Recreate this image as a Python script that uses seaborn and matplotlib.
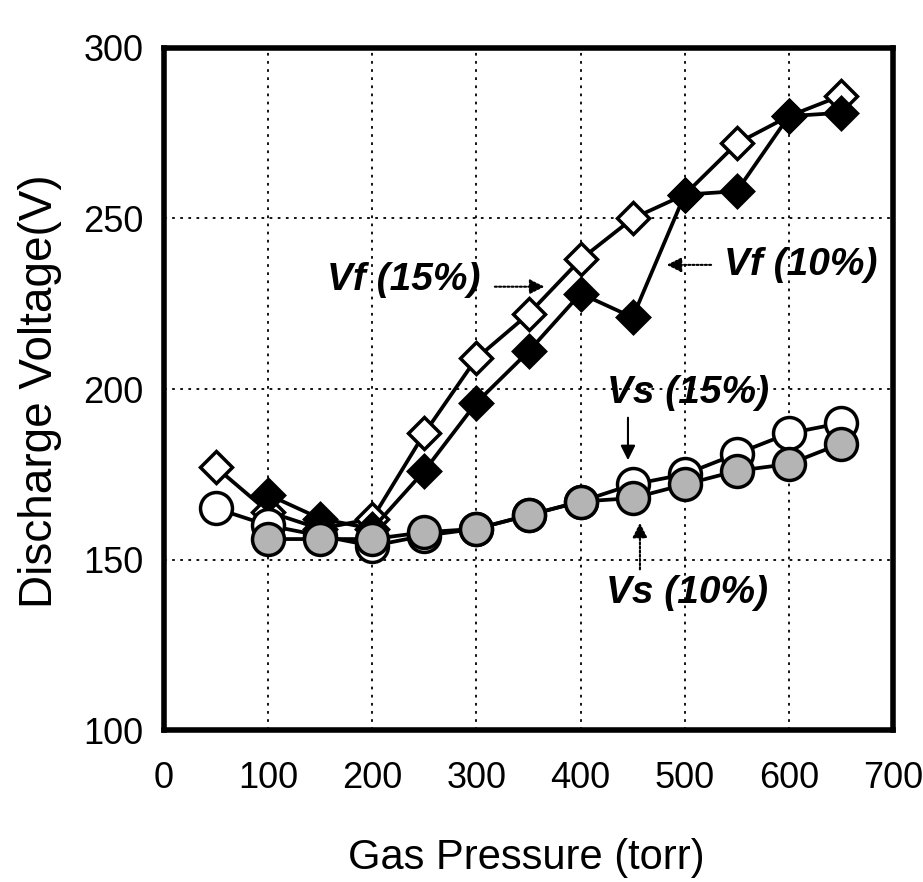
import pandas as pd
import matplotlib
matplotlib.use("Agg")
import matplotlib.pyplot as plt
import seaborn as sns

# dane
pressure = [50, 100, 150, 200, 250, 300, 350, 400, 450, 500, 550, 600, 650]
vf_15 = [177, 164, 159, 162, 187, 209, 222, 238, 250, 257, 272, 280, 286]
vf_10_p = [100, 150, 200, 250, 300, 350, 400, 450, 500, 550, 600, 650]
vf_10 = [169, 162, 159, 176, 196, 211, 228, 221, 257, 258, 280, 281]
vs_15 = [165, 160, 157, 154, 157, 159, 163, 167, 172, 175, 181, 187, 190]
vs_10_p = [100, 150, 200, 250, 300, 350, 400, 450, 500, 550, 600, 650]
vs_10 = [156, 156, 156, 158, 159, 163, 167, 168, 172, 176, 178, 184]

x_ticks = [0, 100, 200, 300, 400, 500, 600, 700]
y_ticks = [100, 150, 200, 250, 300]

sns.set_style("white")
plt.rcParams['font.family'] = ['Liberation Sans', 'DejaVu Sans']
for key in ['text.color', 'axes.labelcolor', 'xtick.color', 'ytick.color']:
    plt.rcParams[key] = 'black'
narrow = ['Liberation Sans Narrow', 'DejaVu Sans Condensed', 'Liberation Sans']

fig = plt.figure(figsize=(9.23, 8.82), dpi=100)
ax = fig.add_axes([0.1777, 0.1723, 0.7898, 0.7733])

series = [
    (pressure, vf_15, 'D', 16.5, 'white'),
    (vf_10_p, vf_10, 'D', 16.5, 'black'),
    (pressure, vs_15, 'o', 23, 'white'),
    (vs_10_p, vs_10, 'o', 23, '#b4b4b4'),
]
for i, (px, py, mk, ms, fc) in enumerate(series):
    df = pd.DataFrame({'P': px, 'V': py})
    sns.lineplot(data=df, x='P', y='V', ax=ax, color='black', linewidth=2.7,
                 marker=mk, markersize=ms, markerfacecolor=fc,
                 markeredgecolor='black', markeredgewidth=2.5, zorder=3 + i)

ax.set_xlim(0, 700)
ax.set_ylim(100, 300)
ax.set_xticks(x_ticks)
ax.set_yticks(y_ticks)
ax.set_xticks(range(0, 701, 20), minor=True)
ax.grid(True, which='major', color='black', linestyle=(0, (1.5, 3)), linewidth=1.3)
ax.tick_params(axis='x', which='major', direction='in', length=9, width=1.5, pad=22, labelsize=26)
ax.tick_params(axis='x', which='minor', direction='in', length=6, width=1.3)
ax.tick_params(axis='y', which='major', length=0, pad=15, labelsize=26)
for lab in ax.get_xticklabels() + ax.get_yticklabels():
    lab.set_family(narrow)
for sp in ax.spines.values():
    sp.set_linewidth(4)
    sp.set_color('black')

ax.set_xlabel('Gas Pressure (torr)', fontsize=30)
ax.set_ylabel('Discharge Voltage(V)', fontsize=33)
ax.xaxis.set_label_coords(0.4966, -0.158)
ax.yaxis.set_label_coords(-0.14, 0.497)

ann = dict(fontsize=28, fontweight='bold', fontstyle='italic', family=narrow)
ax.text(303.5, 232, 'Vf (15%)', ha='right', va='center', **ann)
ax.annotate('', xy=(368, 230), xytext=(315, 230),
            arrowprops=dict(arrowstyle='-|>', color='black', lw=1.5, ls=(0, (1, 1)), mutation_scale=22))
ax.text(537.7, 236.4, 'Vf (10%)', ha='left', va='center', **ann)
ax.annotate('', xy=(480, 236.4), xytext=(528, 236.4),
            arrowprops=dict(arrowstyle='-|>', color='black', lw=1.5, ls=(0, (1, 1)), mutation_scale=22))
ax.text(503, 198.8, 'Vs (15%)', ha='center', va='center', **ann)
ax.annotate('', xy=(445.5, 178.3), xytext=(445.5, 192.4),
            arrowprops=dict(arrowstyle='-|>', color='black', lw=1.5, mutation_scale=22))
ax.text(502, 140.2, 'Vs (10%)', ha='center', va='center', **ann)
ax.annotate('', xy=(457, 161.6), xytext=(457, 146.3),
            arrowprops=dict(arrowstyle='-|>', color='black', lw=1.5, ls=(0, (1, 1)), mutation_scale=22))

fig.savefig('out.png', dpi=100)
